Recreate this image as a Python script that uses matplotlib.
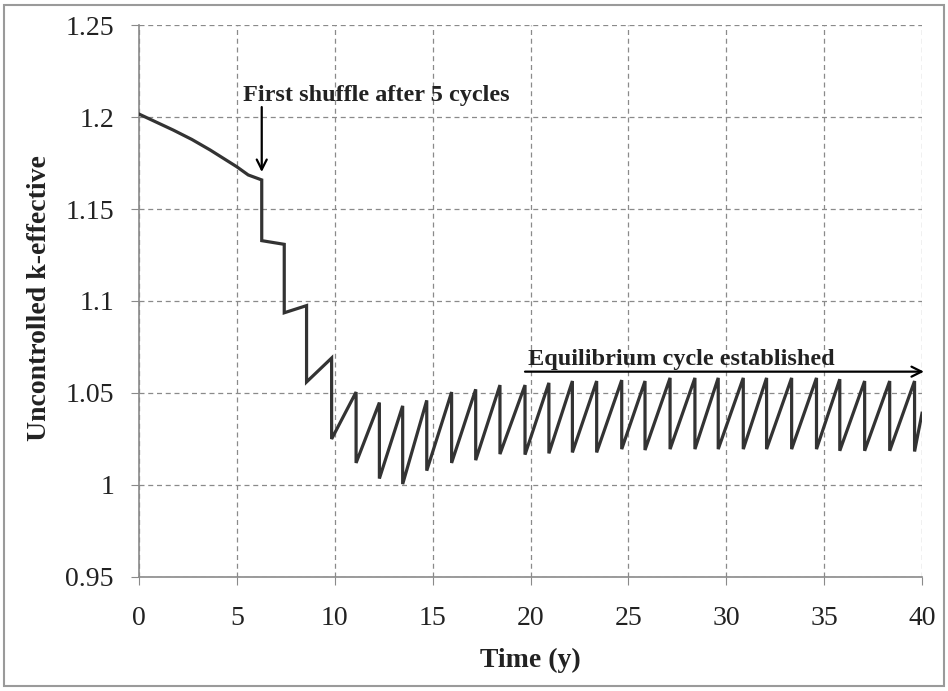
import matplotlib
matplotlib.use("Agg")
import matplotlib.pyplot as plt
from matplotlib.patches import Rectangle
from matplotlib.ticker import FuncFormatter

# ---------------- data ----------------
# initial burn-down before first shuffle
t_initial = [0.0, 1.75, 2.70, 3.63, 4.99, 5.58]
k_initial = [1.2016, 1.1929, 1.1878, 1.1821, 1.1730, 1.1685]

# shuffle times (vertical drops)
shuffle_t = [6.27, 7.42, 8.56, 9.84, 11.09, 12.28, 13.47, 14.70, 15.97, 17.20,
             18.44, 19.72, 20.94, 22.14, 23.38, 24.66, 25.85, 27.13, 28.40, 29.59,
             30.87, 32.06, 33.34, 34.61, 35.80, 37.07, 38.35, 39.62]
# k-eff just before each shuffle
k_before = [1.1658, 1.1308, 1.0975, 1.0690, 1.0505, 1.0448, 1.0430, 1.0460, 1.0505, 1.0520,
            1.0543, 1.0543, 1.0555, 1.0565, 1.0565, 1.0570, 1.0565, 1.0582, 1.0582, 1.0582,
            1.0582, 1.0582, 1.0582, 1.0582, 1.0575, 1.0565, 1.0565, 1.0565]
# k-eff just after each shuffle
k_after = [1.1328, 1.0936, 1.0560, 1.0250, 1.0120, 1.0035, 1.0005, 1.0078, 1.0120, 1.0135,
           1.0168, 1.0165, 1.0172, 1.0177, 1.0177, 1.0195, 1.0190, 1.0195, 1.0195, 1.0195,
           1.0195, 1.0195, 1.0195, 1.0195, 1.0186, 1.0186, 1.0186, 1.0182]
t_end = [40.0]
k_end = [1.0390]

x_ticks = [0, 5, 10, 15, 20, 25, 30, 35, 40]
y_ticks = [0.95, 1.0, 1.05, 1.1, 1.15, 1.2, 1.25]

xlabel = "Time (y)"
ylabel = "Uncontrolled k-effective"
note1 = "First shuffle after 5 cycles"
note2 = "Equilibrium cycle established"

# build the path (vertical drop at each shuffle)
t_all = list(t_initial)
k_all = list(k_initial)
for ts, kb, ka in zip(shuffle_t, k_before, k_after):
    t_all += [ts, ts]
    k_all += [kb, ka]
t_all += t_end
k_all += k_end

# ---------------- figure ----------------
W, H = 948, 691
fig = plt.figure(figsize=(W / 100, H / 100), dpi=100)
serif = ["Liberation Serif", "DejaVu Serif"]

L, R, T, B = 139, 922, 25, 577
ax = fig.add_axes([L / W, 1 - B / H, (R - L) / W, (B - T) / H])

ax.plot(t_all, k_all, color="#333333", lw=2.3, solid_joinstyle="miter", zorder=3)

ax.set_xlim(0, 40)
ax.set_ylim(0.95, 1.25)
ax.set_xticks(x_ticks)
ax.set_yticks(y_ticks)
ax.yaxis.set_major_formatter(FuncFormatter(lambda v, p: "%g" % round(v, 2)))
ax.xaxis.set_major_formatter(FuncFormatter(lambda v, p: "%g" % v))

ax.grid(True, linestyle=(0, (4, 3)), color="#8a8a8a", linewidth=0.9)
ax.set_axisbelow(True)
for s in ["top", "right"]:
    ax.spines[s].set_visible(False)
for s in ["left", "bottom"]:
    ax.spines[s].set_color("#8a8a8a")
    ax.spines[s].set_linewidth(1.2)

ax.tick_params(axis="y", direction="out", length=6, color="#8a8a8a", pad=12)
ax.tick_params(axis="x", direction="out", length=6, color="#8a8a8a", pad=15)
for lab in ax.get_xticklabels() + ax.get_yticklabels():
    lab.set_fontfamily(serif)
    lab.set_fontsize(20)
    lab.set_color("#222222")

fig.text(40 / W, 1 - 298 / H, ylabel, rotation=90, ha="center", va="center",
         fontsize=20, fontweight="bold", family=serif, color="#222222")
fig.text(530 / W, 1 - 660 / H, xlabel, ha="center", va="center",
         fontsize=20, fontweight="bold", family=serif, color="#222222")

# annotation 1
ax.annotate("", xy=(6.27, 1.1701), xytext=(6.27, 1.2054),
            arrowprops=dict(arrowstyle="->", color="black", lw=1.6,
                            mutation_scale=18, shrinkA=0, shrinkB=0))
ax.text(5.31, 1.2089, note1, ha="left", va="baseline", fontsize=17.5,
        fontweight="bold", family=serif, color="#222222")

# annotation 2
ax.annotate("", xy=(40.1, 1.0616), xytext=(19.72, 1.0616),
            arrowprops=dict(arrowstyle="->", color="black", lw=1.6,
                            mutation_scale=18, shrinkA=0, shrinkB=0),
            annotation_clip=False)
ax.text(19.87, 1.0652, note2, ha="left", va="baseline", fontsize=17.5,
        fontweight="bold", family=serif, color="#222222")

# outer frame
fig.patches.append(Rectangle((4 / W, 5 / H), 940 / W, 681 / H, fill=False,
                             edgecolor="#9a9a9a", lw=1.5,
                             transform=fig.transFigure, figure=fig))

fig.savefig("out.png", dpi=100)
